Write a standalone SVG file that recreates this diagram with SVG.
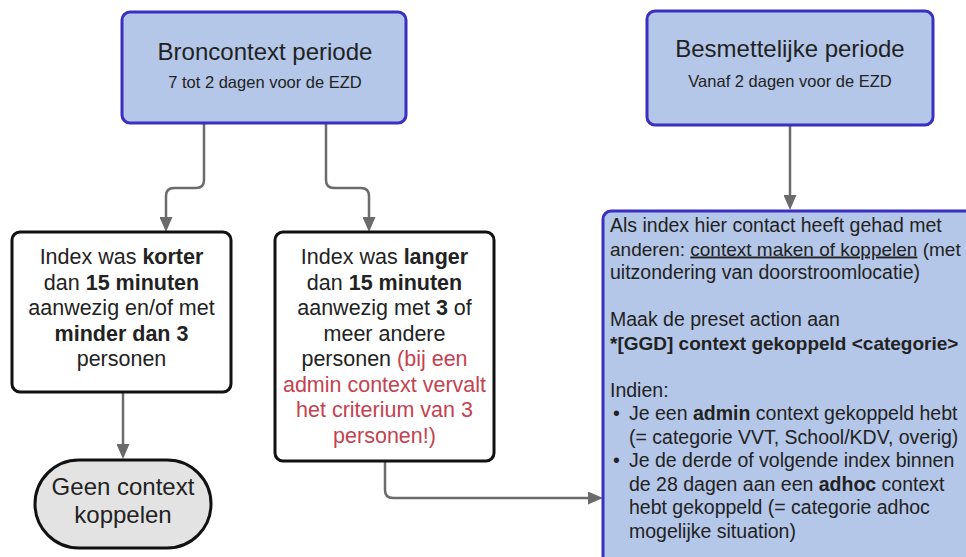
<svg xmlns="http://www.w3.org/2000/svg" width="966" height="557" viewBox="0 0 966 557">
<style>
  text { font-family: "Liberation Sans", Arial, sans-serif; fill: #222; }
  .blue { fill: #b4c7e8; stroke: #3b2fc0; stroke-width: 3; }
  .white { fill: #ffffff; stroke: #111; stroke-width: 3; }
  .term { fill: #e3e3e3; stroke: #111; stroke-width: 3; }
  .title { font-size: 24px; text-anchor: middle; }
  .sub { font-size: 16.5px; text-anchor: middle; }
  .mid { font-size: 21.5px; text-anchor: middle; }
  .body { font-size: 19.5px; }
  .tight { font-size: 19px; }
  .b { font-weight: bold; }
  .red { fill: #c4424f; }
  .conn { fill: none; stroke: #6b6b6b; stroke-width: 2.5; }
</style>
<defs>
  <marker id="arr" markerUnits="userSpaceOnUse" markerWidth="15" markerHeight="13" refX="0" refY="6.5" orient="auto">
    <path d="M0,0 L15,6.5 L0,13 z" fill="#6b6b6b"/>
  </marker>
</defs>
<rect width="966" height="557" fill="#ffffff"/>

<g id="connectors">
  <path class="conn" d="M204,123 V180 Q204,188 196,188 H174 Q166,188 166,196 V217" marker-end="url(#arr)"/>
  <path class="conn" d="M326,123 V180 Q326,188 334,188 H361 Q369,188 369,196 V217" marker-end="url(#arr)"/>
  <path class="conn" d="M790,125 V195" marker-end="url(#arr)"/>
  <path class="conn" d="M123,392 V444" marker-end="url(#arr)"/>
  <path class="conn" d="M385,461 V490 Q385,498 393,498 H588" marker-end="url(#arr)"/>
</g>

<g id="broncontext">
  <rect class="blue" x="122" y="12" width="284" height="111" rx="8"/>
  <text class="title" x="265" y="60">Broncontext periode</text>
  <text class="sub" x="265" y="88">7 tot 2 dagen voor de EZD</text>
</g>

<g id="besmettelijk">
  <rect class="blue" x="647" y="11" width="286" height="114" rx="8"/>
  <text class="title" x="790" y="57">Besmettelijke periode</text>
  <text class="sub" x="790" y="87">Vanaf 2 dagen voor de EZD</text>
</g>

<g id="korter">
  <rect class="white" x="12" y="232" width="219" height="160" rx="8"/>
  <text class="mid" x="121.5" y="264">Index was <tspan class="b">korter</tspan></text>
  <text class="mid" x="121.5" y="289.5">dan <tspan class="b">15 minuten</tspan></text>
  <text class="mid" x="121.5" y="315">aanwezig en/of met</text>
  <text class="mid b" x="121.5" y="340.5">minder dan 3</text>
  <text class="mid" x="121.5" y="366">personen</text>
</g>

<g id="langer">
  <rect class="white" x="275" y="232" width="219" height="229" rx="8"/>
  <text class="mid" x="384.5" y="264">Index was <tspan class="b">langer</tspan></text>
  <text class="mid" x="384.5" y="289.5">dan <tspan class="b">15 minuten</tspan></text>
  <text class="mid" x="384.5" y="315">aanwezig met <tspan class="b">3</tspan> of</text>
  <text class="mid" x="384.5" y="340.5">meer andere</text>
  <text class="mid" x="384.5" y="366">personen <tspan class="red">(bij een</tspan></text>
  <text class="mid red" x="384.5" y="391.5">admin context vervalt</text>
  <text class="mid red" x="384.5" y="417">het criterium van 3</text>
  <text class="mid red" x="384.5" y="442.5">personen!)</text>
</g>

<g id="geen-context">
  <rect class="term" x="35" y="460" width="176" height="88" rx="44"/>
  <text class="mid" x="123" y="495" style="font-size:24px">Geen context</text>
  <text class="mid" x="123" y="523" style="font-size:24px">koppelen</text>
</g>

<g id="besmettelijk-actie">
  <rect class="blue" x="603" y="211" width="420" height="400" rx="8"/>
  <text class="body" x="610" y="232">Als index hier contact heeft gehad met</text>
  <text class="tight" x="610" y="255.5">anderen: <tspan text-decoration="underline">context maken of koppelen</tspan> (met</text>
  <text class="body" x="610" y="279">uitzondering van doorstroomlocatie)</text>
  <text class="body" x="610" y="326">Maak de preset action aan</text>
  <text class="tight b" x="610" y="349.5">*[GGD] context gekoppeld &lt;categorie&gt;</text>
  <text class="body" x="610" y="396.5">Indien:</text>
  <text class="body" x="613" y="420">•</text>
  <text class="body" x="629" y="420">Je een <tspan class="b">admin</tspan> context gekoppeld hebt</text>
  <text class="body" x="629" y="443.5">(= categorie VVT, School/KDV, overig)</text>
  <text class="body" x="613" y="467">•</text>
  <text class="body" x="629" y="467">Je de derde of volgende index binnen</text>
  <text class="body" x="629" y="490.5">de 28 dagen aan een <tspan class="b">adhoc</tspan> context</text>
  <text class="body" x="629" y="514">hebt gekoppeld (= categorie adhoc</text>
  <text class="body" x="629" y="537.5">mogelijke situation)</text>
</g>
</svg>
